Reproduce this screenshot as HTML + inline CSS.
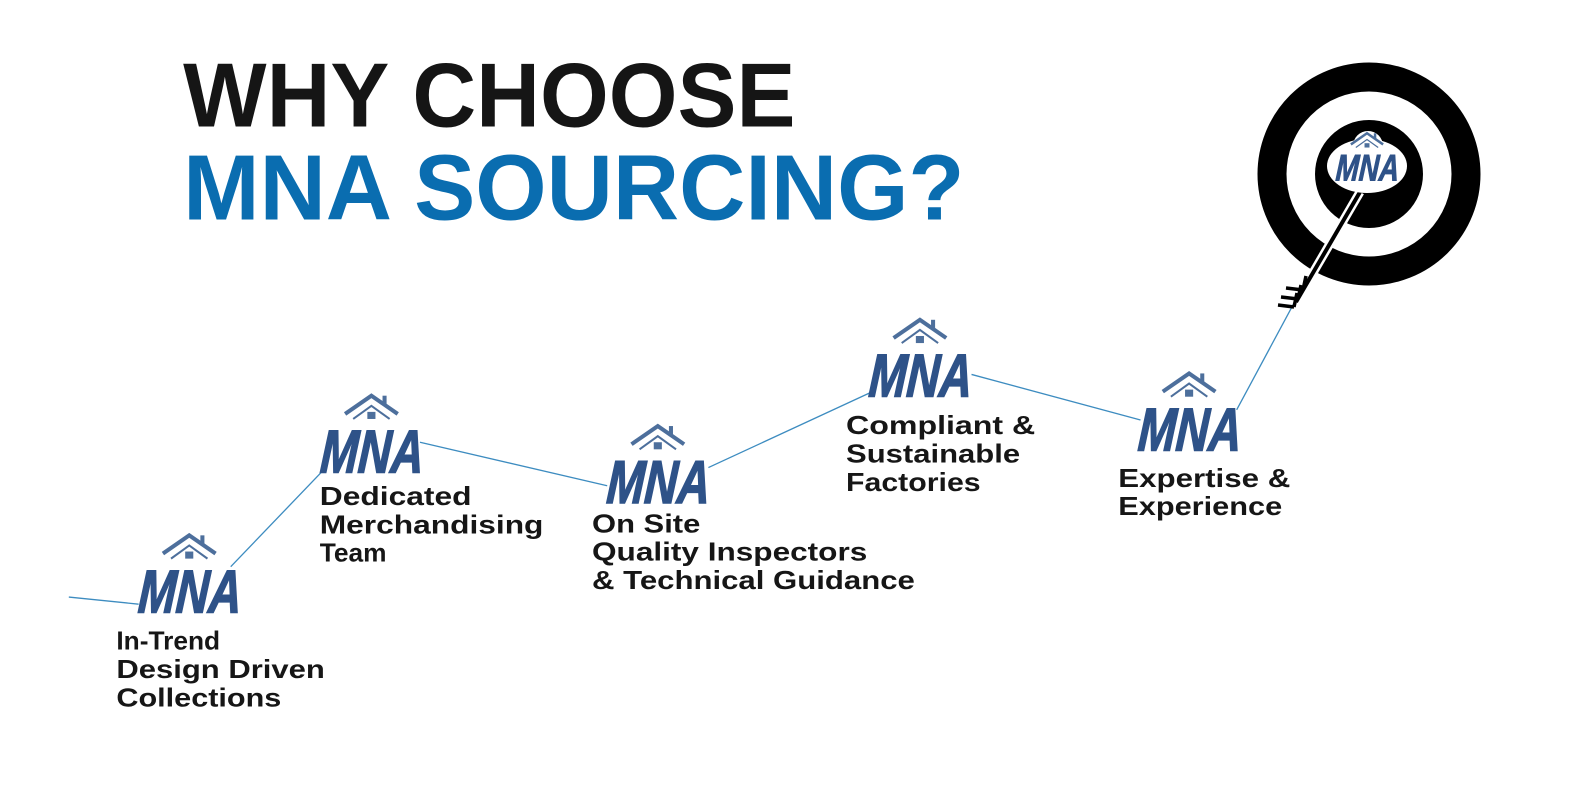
<!DOCTYPE html>
<html><head><meta charset="utf-8"><style>
html,body{margin:0;padding:0;background:#fff;}
svg{display:block;}
.t{font-family:"Liberation Sans",sans-serif;font-weight:bold;}
.lbl{font-family:"Liberation Sans",sans-serif;font-weight:bold;font-size:26px;fill:#161616;}
.mna{font-family:"Liberation Sans",sans-serif;font-weight:bold;font-style:italic;font-size:60px;fill:#2e5288;stroke:#2e5288;stroke-width:1.5;}
</style></head><body>
<svg width="1592" height="805" viewBox="0 0 1592 805" xmlns="http://www.w3.org/2000/svg">
<defs>
<g id="logo">
  <path d="M-26,-38 L0,-56 L26,-38" fill="none" stroke="#4d6f9c" stroke-width="4"/>
  <path d="M-18,-33 L0,-46 L18,-33" fill="none" stroke="#4d6f9c" stroke-width="2"/>
  <rect x="11" y="-56" width="4" height="10" fill="#4d6f9c"/>
  <rect x="-4" y="-40" width="8" height="7" fill="#4d6f9c"/>
  <text class="mna" x="-50" y="20" textLength="102" lengthAdjust="spacingAndGlyphs" transform="skewX(-4)">MNA</text>
</g>
</defs>

<g transform="scale(1.012)">
<text class="t" x="181" y="125" font-size="90" fill="#151515" textLength="605" lengthAdjust="spacingAndGlyphs">WHY CHOOSE</text>
<text class="t" x="181" y="217" font-size="92" fill="#0a6db0" textLength="772" lengthAdjust="spacingAndGlyphs">MNA SOURCING?</text>

<g stroke="#3d8cc0" stroke-width="1.3" fill="none">
<polyline points="68,590 137,597"/>
<line x1="228" y1="560" x2="322" y2="462"/>
<line x1="415" y1="437" x2="600" y2="480"/>
<line x1="700" y1="462" x2="860" y2="388"/>
<line x1="960" y1="370" x2="1127" y2="415"/>
<line x1="1222" y1="405" x2="1280" y2="297"/>
</g>

<g transform="translate(187,585)"><use href="#logo"/></g>
<g transform="translate(367,447)"><use href="#logo"/></g>
<g transform="translate(650,477)"><use href="#logo"/></g>
<g transform="translate(909,372)"><use href="#logo"/></g>
<g transform="translate(1175,425)"><use href="#logo"/></g>

<text class="lbl" x="115" y="642">In-Trend</text>
<text class="lbl" x="115" y="670" textLength="206" lengthAdjust="spacingAndGlyphs">Design Driven</text>
<text class="lbl" x="115" y="698" textLength="163" lengthAdjust="spacingAndGlyphs">Collections</text>

<text class="lbl" x="316" y="499" textLength="150" lengthAdjust="spacingAndGlyphs">Dedicated</text>
<text class="lbl" x="316" y="527" textLength="221" lengthAdjust="spacingAndGlyphs">Merchandising</text>
<text class="lbl" x="316" y="555">Team</text>

<text class="lbl" x="585" y="526" textLength="107" lengthAdjust="spacingAndGlyphs">On Site</text>
<text class="lbl" x="585" y="554" textLength="272" lengthAdjust="spacingAndGlyphs">Quality Inspectors</text>
<text class="lbl" x="585" y="582" textLength="319" lengthAdjust="spacingAndGlyphs">&amp; Technical Guidance</text>

<text class="lbl" x="836" y="429" textLength="187" lengthAdjust="spacingAndGlyphs">Compliant &amp;</text>
<text class="lbl" x="836" y="457" textLength="172" lengthAdjust="spacingAndGlyphs">Sustainable</text>
<text class="lbl" x="836" y="485" textLength="133" lengthAdjust="spacingAndGlyphs">Factories</text>

<text class="lbl" x="1105" y="481" textLength="170" lengthAdjust="spacingAndGlyphs">Expertise &amp;</text>
<text class="lbl" x="1105" y="509" textLength="162" lengthAdjust="spacingAndGlyphs">Experience</text>
</g>

<circle cx="1369" cy="174" r="97" fill="none" stroke="#000" stroke-width="29"/>
<circle cx="1369" cy="174" r="54" fill="#000"/>
<line x1="1360" y1="192" x2="1296" y2="302" stroke="#fff" stroke-width="9"/>
<line x1="1360" y1="192" x2="1296" y2="302" stroke="#000" stroke-width="4"/>
<g stroke="#000" stroke-width="3.5" fill="none">
<path d="M1303,290 L1286,288 M1303,290 L1306,276"/>
<path d="M1298,299 L1281,297 M1298,299 L1301,285"/>
<path d="M1294,307 L1278,305 M1294,307 L1297,293"/>
</g>
<ellipse cx="1367" cy="166" rx="40" ry="27" fill="#fff"/>
<circle cx="1368" cy="146" r="15" fill="#fff"/>
<g transform="translate(1367,168) scale(0.62)"><use href="#logo"/></g>
</svg>
</body></html>
